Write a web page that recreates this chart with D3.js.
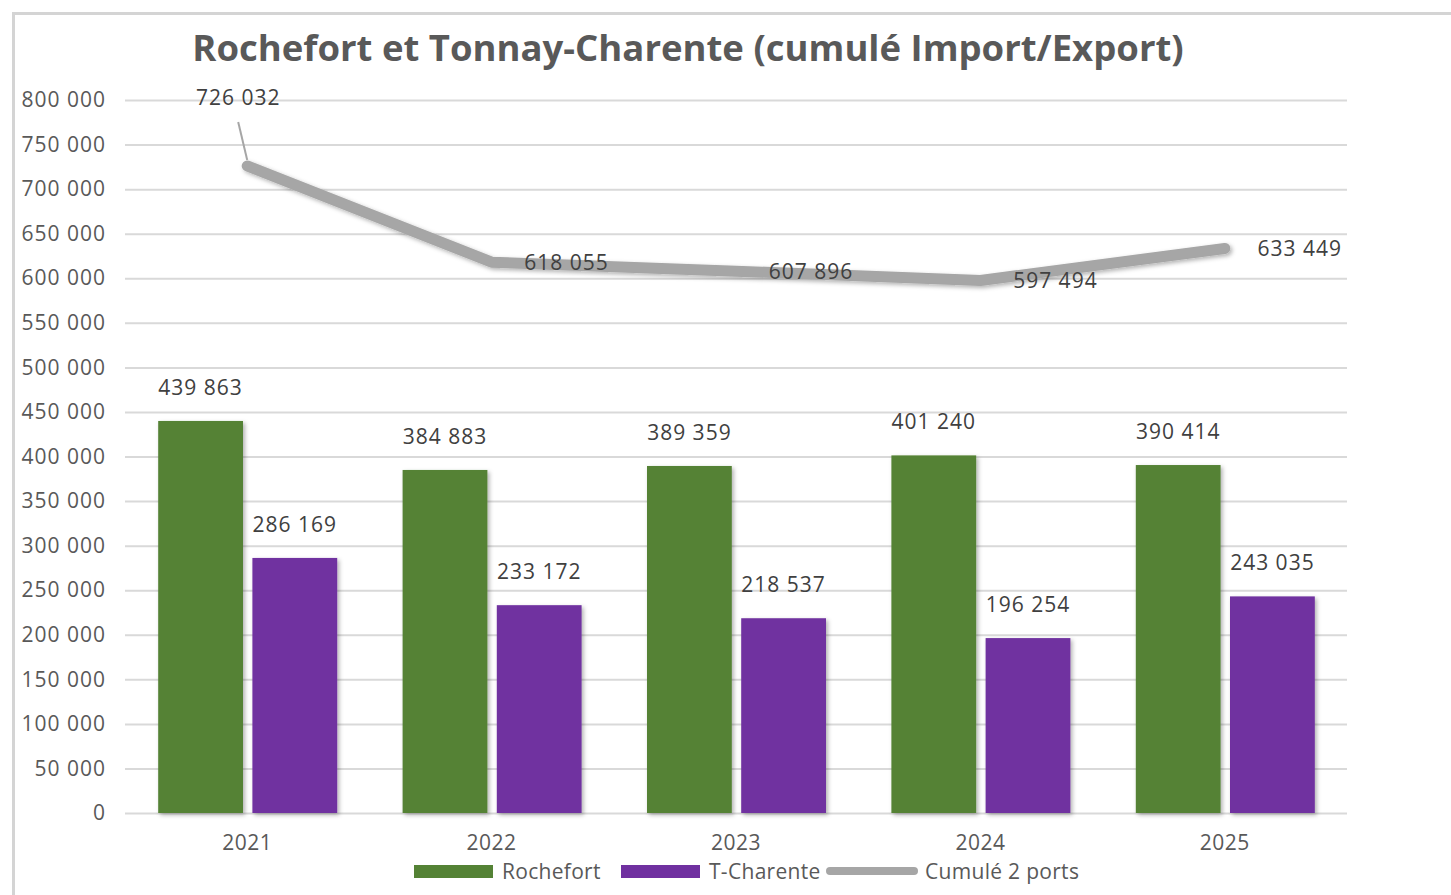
<!DOCTYPE html>
<html>
<head>
<meta charset="utf-8">
<script src="https://cdn.jsdelivr.net/npm/d3@7"></script>
<style>
  body { margin: 0; background: #fff; }
  text { font-family: "Open Sans", Lato, sans-serif; }
</style>
</head>
<body>
<div id="chart"></div>
<script>
var years = ["2021", "2022", "2023", "2024", "2025"];
var rochefort = [439863, 384883, 389359, 401240, 390414];
var tCharente = [286169, 233172, 218537, 196254, 243035];
var cumule = [726032, 618055, 607896, 597494, 633449];
var yTicks = [0, 50000, 100000, 150000, 200000, 250000, 300000, 350000, 400000,
              450000, 500000, 550000, 600000, 650000, 700000, 750000, 800000];
var seriesNames = ["Rochefort", "T-Charente", "Cumulé 2 ports"];

function init(){
    var w = 1451;
    var h = 895;
    var left = 125, right = 1347, top = 100, bottom = 813;
    var green = "#548235", purple = "#7030a0", grey = "#a6a6a6";

    var fmt = function(v){ return d3.format(",")(v).replace(/,/g, " "); };

    var svg = d3.select("#chart")
      .append("svg")
      .attr("width", w)
      .attr("height", h);

    var defs = svg.append("defs");
    var shadow = defs.append("filter").attr("id", "shadow")
      .attr("x", "-10%").attr("y", "-10%").attr("width", "130%").attr("height", "130%");
    shadow.append("feDropShadow").attr("dx", 2).attr("dy", 2).attr("stdDeviation", 2)
      .attr("flood-color", "#000").attr("flood-opacity", 0.3);

    // frame
    svg.append("path")
      .attr("d", "M13.5," + h + "V13.5H" + w)
      .attr("fill", "none").attr("stroke", "#d4d4d4").attr("stroke-width", 3);

    svg.append("text")
      .attr("x", 688).attr("y", 61)
      .attr("text-anchor", "middle")
      .style("font-size", "36.5px").style("font-weight", "bold")
      .attr("fill", "#595959")
      .text("Rochefort et Tonnay-Charente (cumulé Import/Export)");

    var xScale = d3.scaleBand().domain(years).range([left, right]);
    var sub = d3.scaleBand().domain(["r", "t"]).range([-89, 90]).paddingInner(0.1);
    var yScale = d3.scaleLinear().domain([0, 800000]).range([bottom, top]);

    // gridlines + y labels
    var yAxis = d3.axisLeft(yScale).tickValues(yTicks).tickSize(-(right - left))
      .tickFormat(fmt);
    var gy = svg.append("g").attr("transform", "translate(" + left + ",0)").call(yAxis);
    gy.select(".domain").remove();
    gy.selectAll("line").attr("stroke", "#d9d9d9").attr("stroke-width", 2);
    gy.selectAll("text").attr("fill", "#595959").style("font-size", "21px")
      .style("letter-spacing", "1px").attr("x", -19);

    // x axis labels
    var xAxis = d3.axisBottom(xScale).tickSize(0).tickPadding(22);
    var gx = svg.append("g").attr("transform", "translate(0," + bottom + ")").call(xAxis);
    gx.select(".domain").remove();
    gx.selectAll("text").attr("fill", "#595959").style("font-size", "21px")
      .style("letter-spacing", "0.5px");

    var barData = [];
    years.forEach(function(y, i){
      barData.push({year: y, key: "r", value: rochefort[i], color: green});
      barData.push({year: y, key: "t", value: tCharente[i], color: purple});
    });

    svg.append("g").selectAll("rect")
      .data(barData)
      .enter()
      .append("rect")
      .attr("x", function(d){ return xScale(d.year) + xScale.bandwidth() / 2 + sub(d.key); })
      .attr("y", function(d){ return yScale(d.value); })
      .attr("width", sub.bandwidth())
      .attr("height", function(d){ return bottom - yScale(d.value); })
      .attr("fill", function(d){ return d.color; })
      .attr("filter", "url(#shadow)");

    svg.append("g").selectAll("text")
      .data(barData)
      .enter()
      .append("text")
      .attr("x", function(d){ return xScale(d.year) + xScale.bandwidth() / 2 + sub(d.key) + sub.bandwidth() / 2; })
      .attr("y", function(d){ return yScale(d.value) - 26; })
      .attr("text-anchor", "middle")
      .attr("fill", "#404040")
      .style("font-size", "21px").style("letter-spacing", "1px")
      .text(function(d){ return fmt(d.value); });

    // cumulated line
    var cx = function(i){ return xScale(years[i]) + xScale.bandwidth() / 2; };
    var line = d3.line()
      .x(function(d, i){ return cx(i); })
      .y(function(d){ return yScale(d); });

    svg.append("path")
      .datum(cumule)
      .attr("d", line)
      .attr("fill", "none")
      .attr("stroke", grey)
      .attr("stroke-width", 11)
      .attr("stroke-linecap", "round")
      .attr("stroke-linejoin", "round")
      .attr("filter", "url(#shadow)");

    // leader line for first label
    svg.append("line")
      .attr("x1", cx(0) - 9).attr("y1", 122)
      .attr("x2", cx(0)).attr("y2", yScale(cumule[0]) - 6)
      .attr("stroke", "#a6a6a6").attr("stroke-width", 2);

    svg.append("g").selectAll("text")
      .data(cumule)
      .enter()
      .append("text")
      .attr("x", function(d, i){ return i === 0 ? cx(i) - 9 : cx(i) + 75; })
      .attr("y", function(d, i){ return i === 0 ? 105 : yScale(d) + 8; })
      .attr("text-anchor", "middle")
      .attr("fill", "#404040")
      .style("font-size", "21px").style("letter-spacing", "1px")
      .text(function(d){ return fmt(d); });

    // legend
    var legend = svg.append("g");
    var lx = [414, 621, 826];
    var colors = [green, purple, grey];
    seriesNames.forEach(function(name, i){
      if (i < 2) {
        legend.append("rect").attr("x", lx[i]).attr("y", 865)
          .attr("width", 79).attr("height", 13).attr("fill", colors[i]);
      } else {
        legend.append("line").attr("x1", lx[i] + 4).attr("x2", lx[i] + 88)
          .attr("y1", 871).attr("y2", 871)
          .attr("stroke", grey).attr("stroke-width", 8).attr("stroke-linecap", "round");
      }
      legend.append("text").attr("x", lx[i] + (i < 2 ? 88 : 99)).attr("y", 879)
        .attr("fill", "#595959").style("font-size", "21px").style("letter-spacing", "0.3px")
        .text(name);
    });
}

window.onload = init;
</script>
</body>
</html>
